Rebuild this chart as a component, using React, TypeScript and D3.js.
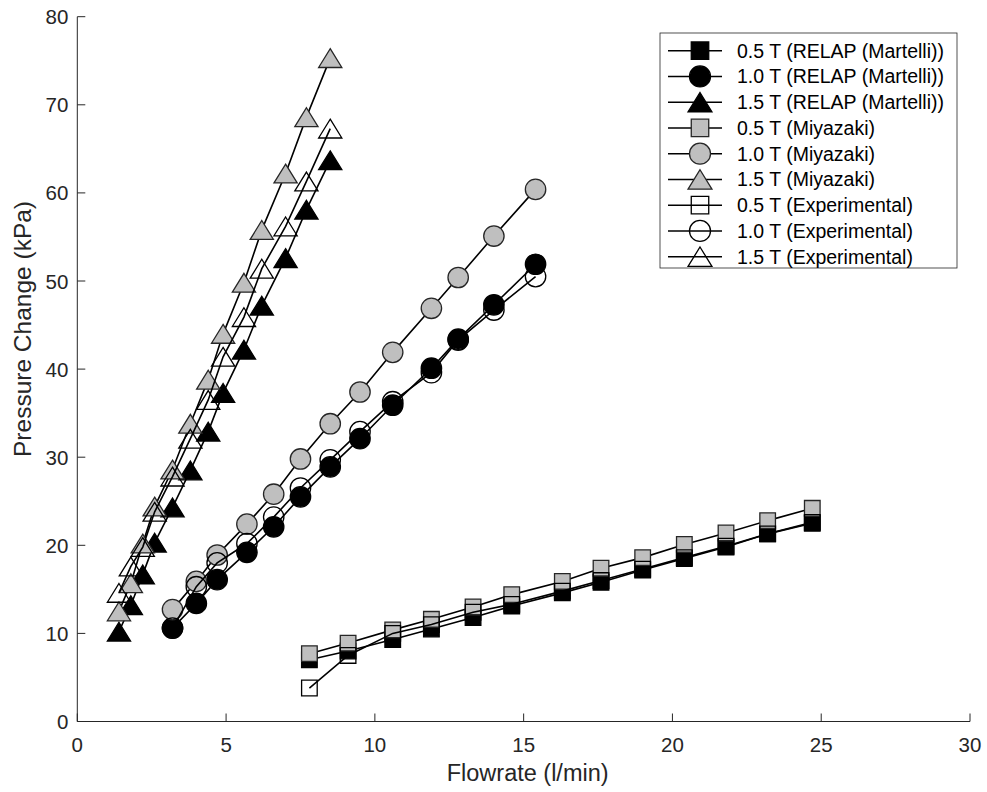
import React from 'react';
import * as d3 from 'd3';

// Flowrates (l/min) at which each field strength was evaluated
const flow05 = [7.8, 9.1, 10.6, 11.9, 13.3, 14.6, 16.3, 17.6, 19.0, 20.4, 21.8, 23.2, 24.7];
const flow10 = [3.2, 4.0, 4.7, 5.7, 6.6, 7.5, 8.5, 9.5, 10.6, 11.9, 12.8, 14.0, 15.4];
const flow15 = [1.4, 1.8, 2.2, 2.6, 3.2, 3.8, 4.4, 4.9, 5.6, 6.2, 7.0, 7.7, 8.5];

// Pressure change (kPa)
const relap05 = [7.0, 8.0, 9.3, 10.5, 11.8, 13.1, 14.6, 15.8, 17.2, 18.5, 19.8, 21.3, 22.5];
const relap10 = [10.6, 13.4, 16.1, 19.2, 22.1, 25.5, 28.9, 32.1, 35.9, 40.1, 43.4, 47.3, 51.9];
const relap15 = [10.2, 13.2, 16.7, 20.3, 24.3, 28.5, 32.9, 37.3, 42.2, 47.2, 52.6, 58.1, 63.7];
const miya05 = [7.7, 8.9, 10.4, 11.6, 13.0, 14.4, 15.9, 17.4, 18.6, 20.1, 21.4, 22.8, 24.2];
const miya10 = [12.7, 15.9, 18.9, 22.4, 25.8, 29.8, 33.8, 37.4, 41.9, 46.9, 50.4, 55.1, 60.4];
const miya15 = [12.5, 15.7, 20.2, 24.4, 28.6, 33.8, 38.8, 44.0, 49.8, 55.8, 62.2, 68.6, 75.3];
const exp05 = [3.8, 7.5, 10.0, 11.0, 12.4, 13.3, 14.8, 16.0, 17.3, 18.6, 19.9, 21.3, 22.6];
const exp10 = [10.6, 15.3, 18.0, 20.2, 23.2, 26.5, 29.7, 32.9, 36.3, 39.6, 43.3, 46.7, 50.5];
const exp15 = [14.6, 17.6, 19.8, 23.8, 27.8, 32.1, 36.5, 41.4, 45.9, 51.4, 56.2, 61.3, 67.3];

const xTicks = [0, 5, 10, 15, 20, 25, 30];
const yTicks = [0, 10, 20, 30, 40, 50, 60, 70, 80];

type Shape = 'square' | 'circle' | 'triangle';

const GRAY = '#bfbfbf';

const series: { label: string; x: number[]; y: number[]; shape: Shape; fill: string }[] = [
  { label: '0.5 T (RELAP (Martelli))', x: flow05, y: relap05, shape: 'square', fill: '#000' },
  { label: '1.0 T (RELAP (Martelli))', x: flow10, y: relap10, shape: 'circle', fill: '#000' },
  { label: '1.5 T (RELAP (Martelli))', x: flow15, y: relap15, shape: 'triangle', fill: '#000' },
  { label: '0.5 T (Miyazaki)', x: flow05, y: miya05, shape: 'square', fill: GRAY },
  { label: '1.0 T (Miyazaki)', x: flow10, y: miya10, shape: 'circle', fill: GRAY },
  { label: '1.5 T (Miyazaki)', x: flow15, y: miya15, shape: 'triangle', fill: GRAY },
  { label: '0.5 T (Experimental)', x: flow05, y: exp05, shape: 'square', fill: 'none' },
  { label: '1.0 T (Experimental)', x: flow10, y: exp10, shape: 'circle', fill: 'none' },
  { label: '1.5 T (Experimental)', x: flow15, y: exp15, shape: 'triangle', fill: 'none' },
];

const FONT = '"Liberation Sans", Arial, Helvetica, sans-serif';
const AXIS = '#262626';

function markerPath(shape: Shape, cx: number, cy: number, scale = 1): string {
  const p = d3.path();
  if (shape === 'square') {
    const s = 7.8 * scale;
    p.rect(cx - s, cy - s, 2 * s, 2 * s);
  } else if (shape === 'circle') {
    const r = 10.2 * scale;
    p.moveTo(cx + r, cy);
    p.arc(cx, cy, r, 0, Math.PI * 2);
    p.closePath();
  } else {
    const w = 11.6 * scale;
    const h = 9.4 * scale;
    p.moveTo(cx, cy - h);
    p.lineTo(cx + w, cy + h);
    p.lineTo(cx - w, cy + h);
    p.closePath();
  }
  return p.toString();
}

export default function App() {
  const width = 987;
  const height = 792;
  const x = d3.scaleLinear().domain([0, 30]).range([77.3, 970]);
  const y = d3.scaleLinear().domain([0, 80]).range([721.5, 16.7]);
  const line = d3
    .line<[number, number]>()
    .x((d) => x(d[0]))
    .y((d) => y(d[1]));

  const legendX = 660;
  const legendY = 33;
  const rowH = 25.75;

  return (
    <svg
      width={width}
      height={height}
      style={{ position: 'absolute', left: 0, top: 0, background: '#fff' }}
      fontFamily={FONT}
    >
      <rect width={width} height={height} fill="#fff" />

      {/* axes */}
      <line x1={x(0)} x2={x(30)} y1={y(0)} y2={y(0)} stroke={AXIS} strokeWidth={1} />
      <line x1={x(0)} x2={x(0)} y1={y(0)} y2={y(80)} stroke={AXIS} strokeWidth={1} />
      {xTicks.map((t) => (
        <g key={'xt' + t}>
          <line x1={x(t)} x2={x(t)} y1={y(0)} y2={y(0) - 8} stroke={AXIS} strokeWidth={1} />
          <text x={x(t)} y={y(0) + 23} textAnchor="middle" dominantBaseline="central" fontSize={20.5} fill={AXIS}>
            {t}
          </text>
        </g>
      ))}
      {yTicks.map((t) => (
        <g key={'yt' + t}>
          <line x1={x(0)} x2={x(0) + 8} y1={y(t)} y2={y(t)} stroke={AXIS} strokeWidth={1} />
          <text x={x(0) - 9} y={y(t)} textAnchor="end" dominantBaseline="central" fontSize={20.5} fill={AXIS}>
            {t}
          </text>
        </g>
      ))}
      <text x={x(15) + 4} y={773} textAnchor="middle" dominantBaseline="central" fontSize={23.5} fill={AXIS}>
        Flowrate (l/min)
      </text>
      <text
        transform={`translate(22, 329) rotate(-90)`}
        textAnchor="middle"
        dominantBaseline="central"
        fontSize={24.5}
        fill={AXIS}
      >
        Pressure Change (kPa)
      </text>

      {/* data series */}
      {series.map((s, i) => {
        const pts = s.x.map((v, j) => [v, s.y[j]] as [number, number]);
        return (
          <g key={'s' + i}>
            <path d={line(pts) || ''} fill="none" stroke="#000" strokeWidth={1.6} />
            {pts.map((d, j) => (
              <path
                key={j}
                d={markerPath(s.shape, x(d[0]), y(d[1]))}
                fill={s.fill}
                stroke={s.fill === GRAY ? '#262626' : '#000'}
                strokeWidth={1.3}
              />
            ))}
          </g>
        );
      })}

      {/* legend */}
      <rect x={legendX} y={legendY} width={297} height={235} fill="#fff" stroke={AXIS} strokeWidth={0.8} />
      {series.map((s, i) => {
        const cy = legendY + 17.7 + i * rowH;
        return (
          <g key={'lg' + i}>
            <line x1={668} x2={722} y1={cy} y2={cy} stroke="#000" strokeWidth={1.6} />
            <path
              d={markerPath(s.shape, 700, cy, s.shape === 'square' ? 1.12 : 1.03)}
              fill={s.fill}
              stroke={s.fill === GRAY ? '#262626' : '#000'}
              strokeWidth={1.3}
            />
            <text x={737} y={cy} dominantBaseline="central" fontSize={19.5} fill="#000">
              {s.label}
            </text>
          </g>
        );
      })}
    </svg>
  );
}
